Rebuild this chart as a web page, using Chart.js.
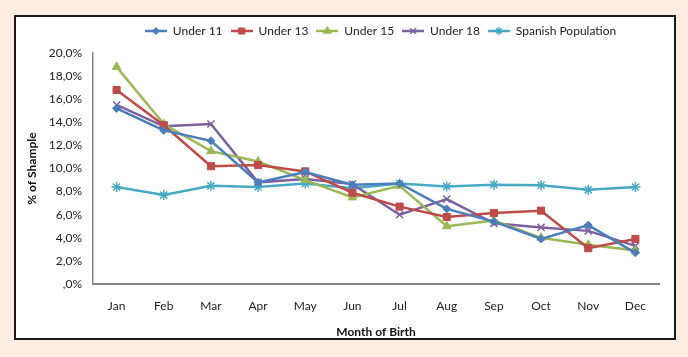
<!DOCTYPE html>
<html>
<head>
<meta charset="utf-8">
<script src="https://cdn.jsdelivr.net/npm/chart.js@4/dist/chart.umd.min.js"></script>
<style>
  html, body { margin: 0; padding: 0; background: #fdede3; }
  body { width: 688px; height: 357px; position: relative; overflow: hidden; }
  #box { position: absolute; left: 14px; top: 15px; width: 658px; height: 321px; border: 2px solid #1a1a1a; background: #ffffff; }
  #c { position: absolute; left: 0; top: 0; }
</style>
</head>
<body>
<div id="box"><canvas id="c" width="658" height="321"></canvas></div>
<script>
const months = ["Jan","Feb","Mar","Apr","May","Jun","Jul","Aug","Sep","Oct","Nov","Dec"];
const under11 = [15.2, 13.3, 12.4, 8.8, 9.7, 8.6, 8.7, 6.5, 5.4, 3.9, 5.1, 2.7];
const under13 = [16.8, 13.75, 10.2, 10.3, 9.75, 7.9, 6.7, 5.8, 6.15, 6.35, 3.1, 3.9];
const under15 = [18.8, 13.85, 11.5, 10.6, 9.0, 7.5, 8.5, 5.0, 5.5, 4.0, 3.4, 2.9];
const under18 = [15.5, 13.65, 13.85, 8.8, 9.1, 8.65, 6.0, 7.35, 5.25, 4.9, 4.6, 3.3];
const spanish = [8.4, 7.7, 8.5, 8.4, 8.7, 8.3, 8.7, 8.45, 8.6, 8.55, 8.15, 8.4];
const yTicks = [0, 2, 4, 6, 8, 10, 12, 14, 16, 18, 20];

const FONT = "Lato, 'Open Sans', 'Liberation Sans', sans-serif";

const seriesDefs = [
  { label: "Under 11", data: under11, color: "#4a7ebb", style: "rectRot", radius: 4 },
  { label: "Under 13", data: under13, color: "#be4b48", style: "rect", radius: 5 },
  { label: "Under 15", data: under15, color: "#98b954", style: "triangle", radius: 5 },
  { label: "Under 18", data: under18, color: "#7d60a0", style: "crossRot", radius: 5 },
  { label: "Spanish Population", data: spanish, color: "#46aac5", style: "star", radius: 5 }
];

function legendIcon(d) {
  const cv = document.createElement('canvas');
  cv.width = 22; cv.height = 12;
  const c2 = cv.getContext('2d');
  c2.strokeStyle = d.color; c2.fillStyle = d.color;
  c2.lineWidth = 2.5;
  c2.beginPath(); c2.moveTo(0, 6); c2.lineTo(22, 6); c2.stroke();
  c2.lineWidth = 1.5;
  Chart.helpers.drawPoint(c2, { pointStyle: d.style, rotation: 0, borderWidth: 1.5, radius: d.radius - 1 }, 11, 6);
  return cv;
}

const datasets = seriesDefs.map(d => ({
  label: d.label,
  data: d.data,
  borderColor: d.color,
  backgroundColor: d.color,
  pointBackgroundColor: d.color,
  pointBorderColor: d.color,
  borderWidth: 2.5,
  pointStyle: d.style,
  pointRadius: d.radius,
  pointBorderWidth: (d.style === 'crossRot' || d.style === 'star') ? 1.5 : 1,
  tension: 0,
  fill: false
}));

const legendTweak = {
  id: 'legendTweak',
  beforeLayout(chart) {
    const lg = chart.legend;
    if (lg && !lg._tweaked) {
      const origFit = lg.fit.bind(lg);
      lg.fit = function () { origFit(); this.height += 6; };
      lg._tweaked = true;
    }
  },
  afterLayout(chart) {
    if (chart.legend) { chart.legend.left += 43; chart.legend.right += 43; }
  }
};

const chart = new Chart(document.getElementById('c'), {
  type: 'line',
  data: { labels: months, datasets: datasets },
  plugins: [legendTweak],
  options: {
    responsive: false,
    animation: false,
    layout: { padding: { left: 0, right: 15, top: 0, bottom: 0 } },
    plugins: {
      tooltip: { enabled: false },
      legend: {
        position: 'top',
        align: 'center',
        labels: {
          usePointStyle: true,
          pointStyleWidth: 22,
          padding: 8,
          color: '#222',
          font: { family: FONT, size: 12 },
          generateLabels(ch) {
            return seriesDefs.map((d, i) => ({
              text: d.label,
              pointStyle: legendIcon(d),
              fillStyle: d.color,
              strokeStyle: d.color,
              lineWidth: 0,
              hidden: false,
              datasetIndex: i,
              fontColor: '#222'
            }));
          }
        }
      }
    },
    scales: {
      x: {
        type: 'category',
        offset: true,
        grid: { display: false, drawTicks: false },
        border: { display: true, color: '#868686', width: 2 },
        ticks: { color: '#222', font: { family: FONT, size: 12 }, padding: 15, maxRotation: 0 },
        title: {
          display: true, text: 'Month of Birth', color: '#111',
          font: { family: FONT, size: 12, weight: 'bold' },
          padding: { top: 0, bottom: -1 }
        },
        afterFit(s) { s.height = 54; }
      },
      y: {
        min: 0, max: 20,
        afterBuildTicks(s) { s.ticks = yTicks.map(v => ({ value: v })); },
        grid: { display: false, drawTicks: false },
        border: { display: true, color: '#868686', width: 1.5 },
        ticks: {
          color: '#222', font: { family: FONT, size: 12 }, padding: 11,
          callback(v) { return v === 0 ? ',0%' : v.toFixed(1).replace('.', ',') + '%'; }
        },
        title: {
          display: true, text: '% of Shample', color: '#111',
          font: { family: FONT, size: 12, weight: 'bold' },
          padding: { top: 9, bottom: 0 }
        },
        afterFit(s) { s.width = 77; }
      }
    }
  }
});
</script>
</body>
</html>
